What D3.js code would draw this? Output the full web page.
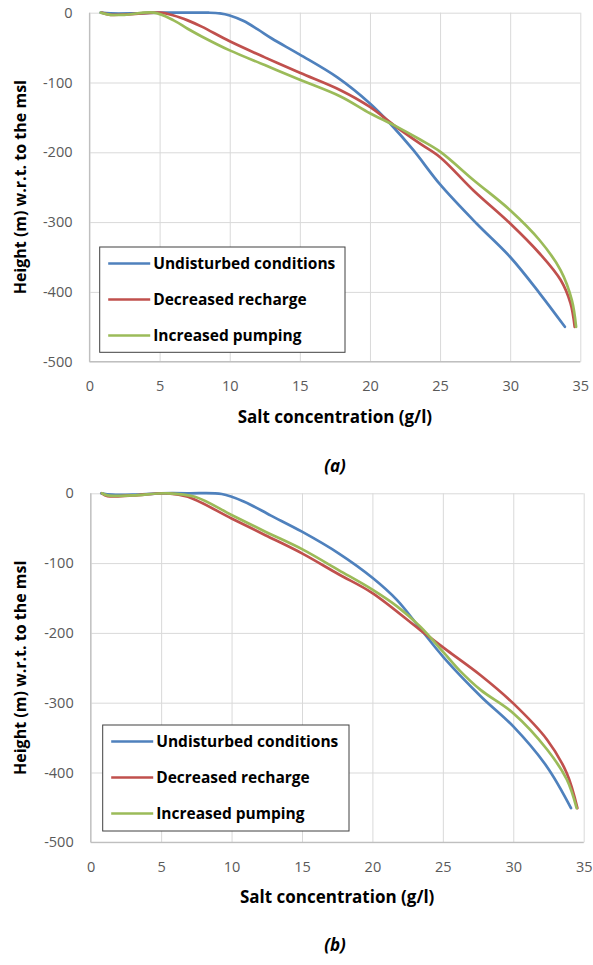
<!DOCTYPE html>
<html>
<head>
<meta charset="utf-8">
<script src="https://cdn.jsdelivr.net/npm/d3@7"></script>
<style>
  html, body { margin: 0; padding: 0; background: #fff; }
  svg { display: block; }
  text { font-family: "Open Sans", "Noto Sans", sans-serif; }
</style>
</head>
<body>
<svg id="chart" width="593" height="965"></svg>
<script>
// Axis ticks
const xTicks = [0, 5, 10, 15, 20, 25, 30, 35];
const yTicks = [0, -100, -200, -300, -400, -500];

const seriesNames = ["Undisturbed conditions", "Decreased recharge", "Increased pumping"];
const seriesColors = ["#4F81BD", "#C0504D", "#9BBB59"];

// Panel (a): salt concentration (g/l) vs height (m)
const aUndisturbedConc = [0.8, 1.5, 3, 5, 7, 8.5, 9.3, 10, 11, 12, 13, 15, 17.7, 20, 21.4, 23.1, 25, 27.6, 30, 32.1, 33.9];
const aUndisturbedH    = [0, -1, -1, 0, 0, 0, -1, -4, -12, -24, -37, -60, -93, -130, -158, -197, -246, -302, -350, -402, -450];
const aRechargeConc = [0.9, 1.5, 3, 5, 6, 7, 8, 10, 12.5, 15, 17.9, 20, 21.7, 23.6, 25, 27.4, 30, 32.1, 33.6, 34.3, 34.6];
const aRechargeH    = [0, -3, -2, 0, -4, -11, -20, -41, -64, -86, -111, -135, -161, -188, -207, -255, -302, -345, -383, -416, -450];
const aPumpingConc = [0.8, 1.5, 2.5, 4.6, 6, 7, 8, 10, 12.5, 15, 17.9, 20, 21.7, 23.6, 25, 27.4, 30, 32.1, 33.6, 34.4, 34.7];
const aPumpingH    = [0, -3, -3, 0, -11, -23, -34, -54, -75, -96, -120, -144, -161, -182, -199, -240, -283, -326, -369, -412, -450];

// Panel (b)
const bUndisturbedConc = [0.75, 1.5, 3, 5, 7, 9.3, 10.9, 12.8, 15, 17.6, 20, 21.75, 23.4, 25.1, 27.7, 30, 32.4, 34.1];
const bUndisturbedH    = [0, -2, -2, 0, 0, -1, -12, -32, -55, -86, -121, -153, -194, -236, -291, -334, -392, -451];
const bRechargeConc = [0.8, 1.2, 3, 5.5, 6.9, 10, 12.4, 15, 17.6, 20, 23.4, 25.3, 27.7, 30, 32.4, 33.8, 34.55];
const bRechargeH    = [0, -4, -3, 0, -5, -36, -60, -86, -116, -143, -196, -225, -261, -301, -353, -401, -451];
const bPumpingConc = [0.8, 1.2, 3, 5.5, 7.4, 10, 12.4, 15, 17.6, 20, 21.75, 23.4, 25.1, 26.2, 27.7, 30, 32.4, 33.8, 34.5];
const bPumpingH    = [0, -3, -3, 0, -5, -31, -55, -80, -110, -138, -162, -191, -229, -254, -282, -315, -367, -410, -451];

const panelCaptions = ["(a)", "(b)"];
const xTitle = "Salt concentration (g/l)";
const yTitle = "Height (m) w.r.t. to the msl";

const zip = (xs, ys) => xs.map((v, i) => ({ c: v, h: ys[i] }));

const panels = [
  {
    caption: panelCaptions[0],
    box: { left: 89.5, right: 580.3, top: 12.7, bottom: 361.7 },
    legend: { x: 99.7, y: 247, w: 245.3, h: 105.3 },
    captionY: 466,
    series: [zip(aUndisturbedConc, aUndisturbedH), zip(aRechargeConc, aRechargeH), zip(aPumpingConc, aPumpingH)]
  },
  {
    caption: panelCaptions[1],
    box: { left: 90.7, right: 583.7, top: 493.3, bottom: 842.3 },
    legend: { x: 102.7, y: 725, w: 246.3, h: 106 },
    captionY: 945,
    series: [zip(bUndisturbedConc, bUndisturbedH), zip(bRechargeConc, bRechargeH), zip(bPumpingConc, bPumpingH)]
  }
];

const svg = d3.select("#chart");
const fmt = d => String(d);

panels.forEach(p => {
  const b = p.box;
  const x = d3.scaleLinear().domain([0, 35]).range([b.left, b.right]);
  const y = d3.scaleLinear().domain([-500, 0]).range([b.bottom, b.top]);
  const g = svg.append("g");

  // vertical gridlines + x tick labels
  const xAxis = g.append("g")
    .attr("transform", `translate(0,${b.bottom})`)
    .call(d3.axisBottom(x).tickValues(xTicks).tickSize(-(b.bottom - b.top)).tickPadding(19).tickFormat(fmt));
  xAxis.select(".domain").remove();
  xAxis.selectAll(".tick line").attr("stroke", "#d9d9d9").attr("stroke-width", 1);
  xAxis.selectAll(".tick text")
    .attr("fill", "#595959").attr("font-size", 14.5).attr("font-family", "'Open Sans', sans-serif");

  // horizontal gridlines + y tick labels
  const yAxis = g.append("g")
    .attr("transform", `translate(${b.left},0)`)
    .call(d3.axisLeft(y).tickValues(yTicks).tickSize(-(b.right - b.left)).tickPadding(17).tickFormat(fmt));
  yAxis.select(".domain").remove();
  yAxis.selectAll(".tick line").attr("stroke", "#d9d9d9").attr("stroke-width", 1);
  yAxis.selectAll(".tick text")
    .attr("fill", "#595959").attr("font-size", 14.5).attr("font-family", "'Open Sans', sans-serif");

  // axis lines
  g.append("line").attr("x1", b.left).attr("x2", b.left).attr("y1", b.top).attr("y2", b.bottom)
    .attr("stroke", "#bfbfbf").attr("stroke-width", 1.2);
  g.append("line").attr("x1", b.left).attr("x2", b.right).attr("y1", b.bottom).attr("y2", b.bottom)
    .attr("stroke", "#bfbfbf").attr("stroke-width", 1.2);

  // curves
  const line = d3.line()
    .x(d => x(d.c))
    .y(d => y(d.h))
    .curve(d3.curveCatmullRom.alpha(0.5));

  p.series.forEach((s, i) => {
    g.append("path")
      .datum(s)
      .attr("fill", "none")
      .attr("stroke", seriesColors[i])
      .attr("stroke-width", 2.7)
      .attr("stroke-linejoin", "round")
      .attr("stroke-linecap", "round")
      .attr("d", line);
  });

  // legend
  const L = p.legend;
  const lg = g.append("g");
  lg.append("rect")
    .attr("x", L.x).attr("y", L.y).attr("width", L.w).attr("height", L.h)
    .attr("fill", "#fff").attr("stroke", "#404040").attr("stroke-width", 1);
  seriesNames.forEach((name, i) => {
    const cy = L.y + 16.5 + i * 36;
    lg.append("line")
      .attr("x1", L.x + 8.5).attr("x2", L.x + 50.5)
      .attr("y1", cy).attr("y2", cy)
      .attr("stroke", seriesColors[i]).attr("stroke-width", 2.7);
    lg.append("text")
      .attr("x", L.x + 53.5).attr("y", cy)
      .attr("dy", "0.35em")
      .attr("font-size", 15.5).attr("font-weight", "bold").attr("fill", "#000")
      .text(name);
  });

  // axis titles
  g.append("text")
    .attr("x", (b.left + b.right) / 2).attr("y", b.bottom + 55)
    .attr("dy", "0.35em")
    .attr("text-anchor", "middle")
    .attr("font-size", 17).attr("font-weight", "bold").attr("fill", "#000")
    .text(xTitle);
  g.append("text")
    .attr("transform", `translate(20,${(b.top + b.bottom) / 2}) rotate(-90)`)
    .attr("dy", "0.35em")
    .attr("text-anchor", "middle")
    .attr("font-size", 16).attr("font-weight", "bold").attr("fill", "#000")
    .text(yTitle);

  // panel caption
  g.append("text")
    .attr("x", 335).attr("y", p.captionY)
    .attr("dy", "0.35em")
    .attr("text-anchor", "middle")
    .attr("font-size", 17).attr("font-weight", "bold").attr("font-style", "italic").attr("fill", "#000")
    .text(p.caption);
});
</script>
</body>
</html>
